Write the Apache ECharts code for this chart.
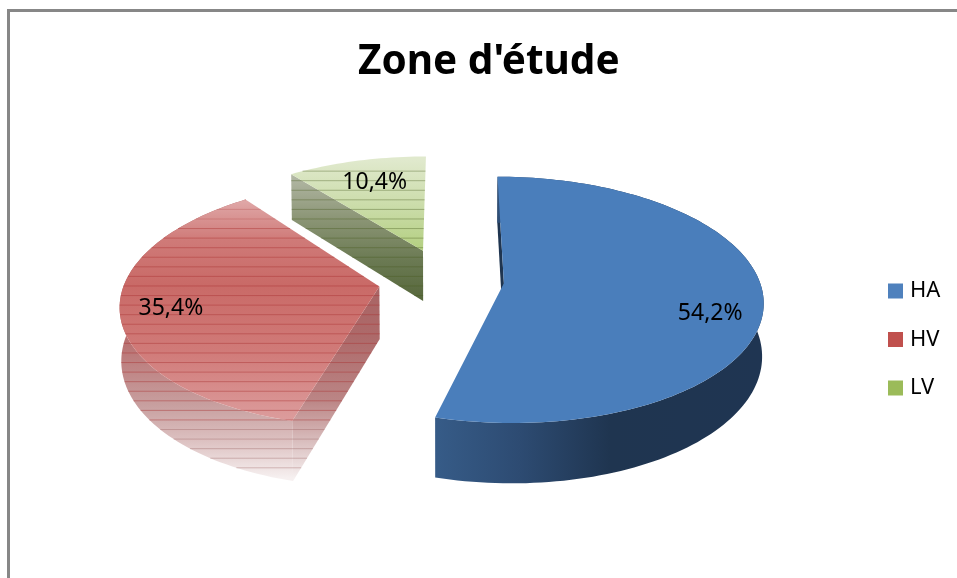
<!DOCTYPE html>
<html><head><meta charset="utf-8">
<style>html,body{margin:0;padding:0;background:#fff}#c{width:957px;height:578px}</style>
<script src="https://cdn.jsdelivr.net/npm/echarts@6/dist/echarts.min.js"></script>
</head><body><div id="c"></div>
<script>
// Data
const categories = ['HA', 'HV', 'LV'];
const shareValues = [54.2, 35.4, 10.4];
const titleText = "Zone d'étude";
// Styling / projection of the 3D pie
const legendColors = ['#4f81bd', '#c0504d', '#9bbb59'];
const explodeBy = [0.21, 0.277, 0.272];
const explodeTurn = [0, 0, -4.7];
const rimRadius = [0.99, 0.985, 0.97];
const rimFlatten = [1, 1, 0.96];
const labelRadius = [0.80, 0.796, 0.69];
const labelTurn = [9.5, -1.4, 0.2];
const CX = 450, CY = 280, S = 258, K = 0.47, P = 0.135, Q = 0.005, H = 52;
const STRIPE0 = 180.7, STRIPE_STEP = 9.57;
const FONT = '"Noto Sans", sans-serif';

function sliceAngles(i) {
  const total = shareValues.reduce((a, b) => a + b, 0);
  let before = 0;
  for (let k = 0; k < i; k++) before += shareValues[k];
  const a0 = before / total * 360, a1 = (before + shareValues[i]) / total * 360;
  return [a0, a1, (a0 + a1) / 2];
}
const rad = d => d * Math.PI / 180;
function project(X, Z, h) {
  const w = 1 - P * Z;
  const wx = w + Q * h / H;
  return [CX + S * X / wx, CY + S * K * Z / w + h / w];
}
function apexOf(i) {
  const dir = rad(sliceAngles(i)[2] + explodeTurn[i]), e = explodeBy[i];
  return [e * Math.sin(dir), -e * Math.cos(dir)];
}
function radial(i, deg, r, h, flat) {
  const a = apexOf(i);
  return project(a[0] + r * Math.sin(rad(deg)), a[1] - r * (flat || 1) * Math.cos(rad(deg)), h);
}
function arc(i, h) {
  const [a0, a1] = sliceAngles(i), pts = [];
  const n = Math.ceil((a1 - a0) / 1.5);
  for (let k = 0; k <= n; k++) pts.push(radial(i, a0 + (a1 - a0) * k / n, rimRadius[i], h, rimFlatten[i]));
  return pts;
}
function vGrad(stops) {
  const y0 = stops[0][0], y1 = stops[stops.length - 1][0];
  return { type: 'linear', global: true, x: 0, y: y0, x2: 0, y2: y1,
    colorStops: stops.map(s => ({ offset: (s[0] - y0) / (y1 - y0), color: s[1] })) };
}
function hGrad(stops) {
  const x0 = stops[0][0], x1 = stops[stops.length - 1][0];
  return { type: 'linear', global: true, x: x0, y: 0, x2: x1, y2: 0,
    colorStops: stops.map(s => ({ offset: (s[0] - x0) / (x1 - x0), color: s[1] })) };
}
function poly(points, fill) {
  return { type: 'polygon', silent: true, shape: { points }, style: { fill, stroke: null } };
}
function stripes(polys, color, lineW) {
  const out = [];
  for (let y = STRIPE0 - STRIPE_STEP; y < 474; y += STRIPE_STEP) {
    let lo = Infinity, hi = -Infinity;
    polys.forEach(pg => {
      for (let k = 0; k < pg.length; k++) {
        const a = pg[k], b = pg[(k + 1) % pg.length];
        if ((a[1] <= y && b[1] > y) || (b[1] <= y && a[1] > y)) {
          const x = a[0] + (y - a[1]) / (b[1] - a[1]) * (b[0] - a[0]);
          lo = Math.min(lo, x); hi = Math.max(hi, x);
        }
      }
    });
    if (hi > lo) out.push({ type: 'line', silent: true,
      shape: { x1: lo, y1: y, x2: hi, y2: y },
      style: { stroke: color(y), lineWidth: lineW } });
  }
  return out;
}
const faces = [
  { // HA
    band: hGrad([[438, '#365b87'], [520, '#2d4b72'], [610, '#1f3550'], [765, '#1f3552']]),
    wall: '#1f3550',
    top: '#4a7ebb'
  },
  { // HV
    band: vGrad([[290, '#ad6664'], [340, '#b87070'], [406, '#c8a0a0'], [440, '#dcc0c0'], [478, '#f6f0f0']]),
    wall: vGrad([[285, '#a96464'], [337, '#ad6a6a'], [400, '#bb8585'], [440, '#d8bcbc'], [478, '#f6f0f0']]),
    top: vGrad([[200, '#e0a8a8'], [240, '#cf7a78'], [285, '#c96a67'], [350, '#d07a78'], [420, '#dc9c9c']]),
    stripe: y => y > 425 ? 'rgba(150,90,90,0.35)' : y < 225 ? 'rgba(180,70,70,0.3)' : 'rgba(170,50,50,0.45)'
  },
  { // LV
    wall: vGrad([[173, '#b5baa8'], [220, '#8a9474'], [260, '#6b7a53'], [303, '#55663a']]),
    top: vGrad([[160, '#e0e9cd'], [210, '#c9dba6'], [250, '#b3cf80']]),
    stripe: y => 'rgba(70,90,30,0.38)'
  }
];
function renderSlice(i, api) {
  const value = api.value(0);
  const mid = sliceAngles(i)[2];
  const f = faces[i];
  const top = arc(i, 0), bot = arc(i, H);
  const ap = apexOf(i);
  const apexTop = project(ap[0], ap[1], 0), apexBot = project(ap[0], ap[1], H);
  const fillTop = [apexTop].concat(top);
  const band = top.concat(bot.slice().reverse());
  const wallStart = [top[0], apexTop, apexBot, bot[0]];
  const kids = [];
  const polys = [fillTop];
  if (i === 0) { kids.push(poly(wallStart, f.wall), poly(band, f.band)); }
  if (i === 1) { kids.push(poly(band, f.band), poly(wallStart, f.wall)); polys.push(band, wallStart); }
  if (i === 2) { kids.push(poly(wallStart, f.wall)); polys.push(wallStart); }
  kids.push(poly(fillTop, f.top));
  if (f.stripe) kids.push.apply(kids, stripes(polys, f.stripe, 1));
  const lp = radial(i, mid + labelTurn[i], labelRadius[i], 0);
  kids.push({ type: 'text', silent: true, style: {
    x: lp[0], y: lp[1], text: value.toFixed(1).replace('.', ',') + '%',
    fill: '#000', font: '23px ' + FONT, align: 'center', verticalAlign: 'middle' } });
  return { type: 'group', children: kids };
}
const chart = echarts.init(document.getElementById('c'), null, { renderer: 'canvas' });
chart.setOption({
  animation: false,
  backgroundColor: '#fff',
  title: { text: titleText, left: 353, top: 37,
    textStyle: { fontFamily: FONT, fontWeight: 'bold', fontSize: 40.5, color: '#000' } },
  legend: { data: categories, orient: 'vertical', left: 888, top: 280, icon: 'rect',
    itemWidth: 15, itemHeight: 15, itemGap: 26.5, padding: 0,
    textStyle: { fontFamily: FONT, fontSize: 22, color: '#000', padding: [0, 0, 0, 2] } },
  graphic: [
    { type: 'rect', shape: { x: 7, y: 9, width: 950, height: 3 }, style: { fill: '#878787' }, silent: true },
    { type: 'rect', shape: { x: 7, y: 9, width: 3, height: 569 }, style: { fill: '#878787' }, silent: true }
  ],
  series: categories.map((name, i) => ({
    name, type: 'custom', coordinateSystem: 'none', silent: true,
    itemStyle: { color: legendColors[i] }, z: 2 + i,
    data: [[shareValues[i]]],
    renderItem: (params, api) => renderSlice(i, api)
  }))
});
</script></body></html>
